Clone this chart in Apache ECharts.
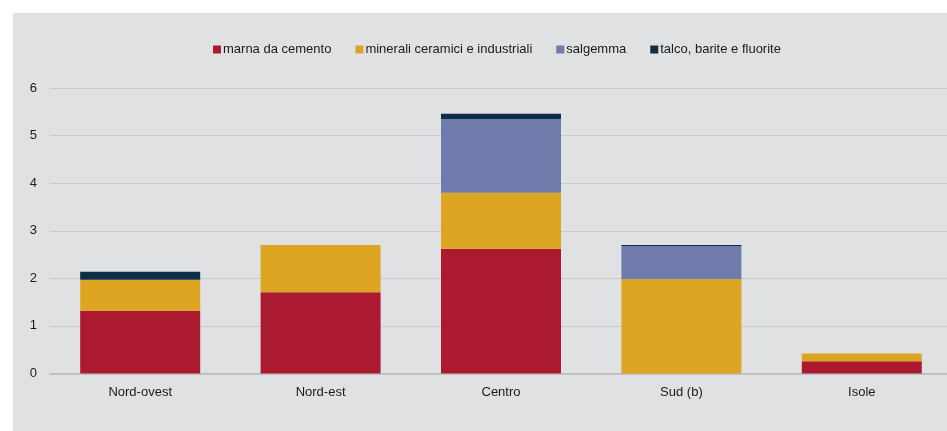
<!DOCTYPE html>
<html>
<head>
<meta charset="utf-8">
<script src="https://cdn.jsdelivr.net/npm/echarts@6/dist/echarts.min.js"></script>
<style>
  html, body { margin: 0; padding: 0; background: #ffffff; overflow: hidden; }
  #chart { width: 954px; height: 431px; }
</style>
</head>
<body>
<div id="chart"></div>
<script>
// Regions on the x axis
var categories = ['Nord-ovest', 'Nord-est', 'Centro', 'Sud (b)', 'Isole'];

// Stacked components per region
var marna = [1.32, 1.71, 2.62, 0.00, 0.26];
var minerali = [0.65, 0.99, 1.18, 1.98, 0.16];
var salgemma = [0.00, 0.00, 1.55, 0.70, 0.00];
var talco = [0.17, 0.00, 0.11, 0.02, 0.00];

var seriesNames = ['marna da cemento', 'minerali ceramici e industriali', 'salgemma', 'talco, barite e fluorite'];
var colors = ['#ab1a2f', '#dea523', '#6e7bab', '#0c2e47'];

var yTicks = [0, 1, 2, 3, 4, 5, 6];

var chart = echarts.init(document.getElementById('chart'), null, { renderer: 'canvas' });

var values = [marna, minerali, salgemma, talco];
var series = values.map(function (arr, i) {
  return {
    name: seriesNames[i],
    type: 'bar',
    stack: 'total',
    barWidth: 120,
    data: arr,
    itemStyle: { color: colors[i] },
    emphasis: { disabled: true }
  };
});

chart.setOption({
  backgroundColor: '#ffffff',
  animation: false,
  color: colors,
  textStyle: { fontFamily: 'Liberation Sans, Arial, sans-serif' },
  graphic: [{
    type: 'rect',
    left: 13, top: 13, z: -10,
    shape: { width: 941, height: 418 },
    style: { fill: '#e0e1e3' },
    silent: true
  }],
  legend: {
    top: 38,
    left: 208,
    itemWidth: 8,
    itemHeight: 8,
    itemGap: 24,
    icon: 'rect',
    textStyle: { fontSize: 13, color: '#1a1a1a', padding: [0, 0, 0, -3] },
    data: seriesNames
  },
  grid: {
    left: 50,
    top: 88,
    width: 902,
    height: 285.5,
    containLabel: false
  },
  xAxis: {
    type: 'category',
    data: categories,
    axisTick: { show: false },
    axisLine: { lineStyle: { color: '#b8b9bb', width: 1.5 } },
    axisLabel: { fontSize: 13, color: '#1a1a1a', margin: 12 }
  },
  yAxis: {
    type: 'value',
    min: yTicks[0],
    max: yTicks[yTicks.length - 1],
    interval: 1,
    axisLine: { show: false },
    axisTick: { show: false },
    axisLabel: { fontSize: 13, color: '#1a1a1a', margin: 13 },
    splitLine: { lineStyle: { color: '#c9cacc', width: 1 } }
  },
  series: series
});
</script>
</body>
</html>
